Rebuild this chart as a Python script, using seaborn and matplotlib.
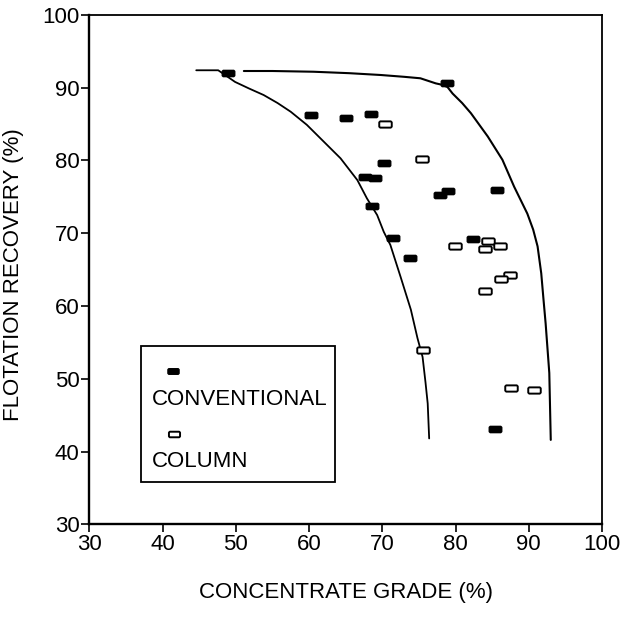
"""
浮选回收率 vs 精矿品位 (常规浮选 / 浮选柱)
"""
import numpy as np
import pandas as pd
import matplotlib
matplotlib.use('Agg')
import matplotlib.pyplot as plt
from matplotlib.path import Path
from matplotlib.patches import Rectangle
import seaborn as sns

# 常规浮选 (实心)
conv_grade = [48.9, 78.9, 60.2, 65.1, 68.5, 70.2, 67.7, 69.0, 68.6, 71.5,
              73.8, 77.9, 79.0, 85.6, 82.4, 85.4]
conv_recovery = [92.0, 90.7, 86.3, 85.9, 86.4, 79.6, 77.8, 77.6, 73.8, 69.4,
                 66.6, 75.3, 75.8, 76.0, 69.2, 43.1]

# 浮选柱 (空心)
col_grade = [70.4, 75.4, 79.9, 84.5, 84.0, 86.1, 87.4, 86.2, 84.0, 75.5,
             87.6, 90.7]
col_recovery = [85.0, 80.2, 68.2, 68.9, 67.9, 68.2, 64.2, 63.7, 62.0, 54.0,
                48.8, 48.5]

# 包络线 (手绘)
low_curve_x = [44.6, 47.6, 49.9, 51.8, 53.8, 55.7, 57.5, 59.7, 62.0, 64.3,
               66.6, 67.9, 69.3, 70.2, 71.1, 72.5, 73.9, 74.8, 75.5, 75.9,
               76.2, 76.4]
low_curve_y = [92.4, 92.4, 90.8, 89.9, 89.0, 87.9, 86.7, 84.9, 82.6, 80.3,
               77.3, 74.8, 72.5, 70.2, 68.4, 64.0, 59.5, 55.6, 53.0, 49.5,
               46.6, 41.8]
high_curve_x = [51.1, 55.0, 60.6, 65.5, 69.8, 73.0, 75.2, 76.4, 77.3, 78.2,
                78.9, 79.6, 80.9, 82.1, 84.4, 86.4, 88.0, 89.8, 90.6, 91.2,
                91.7, 92.0, 92.3, 92.8, 93.0]
high_curve_y = [92.3, 92.3, 92.2, 92.0, 91.75, 91.5, 91.3, 90.9, 90.6, 90.4,
                90.1, 89.2, 87.9, 86.5, 83.3, 80.1, 76.4, 72.7, 70.5, 68.2,
                64.5, 61.0, 57.6, 50.8, 41.6]

ticks = [30, 40, 50, 60, 70, 80, 90, 100]

sns.set_style('ticks')
plt.rcParams['font.family'] = ['Liberation Sans', 'DejaVu Sans']
plt.rcParams['text.color'] = 'black'
plt.rcParams['axes.labelcolor'] = 'black'

# 圆角长方形标记
verts = [(-1, -0.35), (-0.85, -0.5), (0.85, -0.5), (1, -0.35),
         (1, 0.35), (0.85, 0.5), (-0.85, 0.5), (-1, 0.35), (-1, -0.35)]
box = Path(verts, closed=True)

fig = plt.figure(figsize=(6.24, 6.19), dpi=100)
ax = fig.add_axes([0.1431, 0.1530, 0.8217, 0.8228])

sns.lineplot(x=low_curve_x, y=low_curve_y, sort=False, estimator=None,
             color='black', lw=1.3, ax=ax, zorder=1)
sns.lineplot(x=high_curve_x, y=high_curve_y, sort=False, estimator=None,
             color='black', lw=1.5, ax=ax, zorder=1)

conv = pd.DataFrame({'grade': conv_grade, 'recovery': conv_recovery})
col = pd.DataFrame({'grade': col_grade, 'recovery': col_recovery})
sns.scatterplot(data=conv, x='grade', y='recovery', marker=box, s=81,
                color='black', edgecolor='black', linewidth=1.0, ax=ax, zorder=3)
sns.scatterplot(data=col, x='grade', y='recovery', marker=box, s=81,
                facecolor='white', edgecolor='black', linewidth=1.4, ax=ax, zorder=3)

ax.set_xlim(30, 100)
ax.set_ylim(30, 100)
ax.set_xticks(ticks)
ax.set_yticks(ticks)
ax.tick_params(axis='both', direction='out', length=5.5, width=1.2,
               labelsize=16, pad=1.5, colors='black', labelcolor='black')
for side in ['top', 'right', 'left', 'bottom']:
    ax.spines[side].set_visible(True)
    ax.spines[side].set_color('black')
    ax.spines[side].set_linewidth(1.3)
ax.spines['left'].set_linewidth(1.7)
ax.spines['bottom'].set_linewidth(1.7)

ax.set_xlabel('CONCENTRATE GRADE (%)', fontsize=16, color='black')
ax.set_ylabel('FLOTATION RECOVERY (%)', fontsize=16, color='black')
ax.xaxis.set_label_coords(0.5, -0.113)
ax.yaxis.set_label_coords(-0.128, 0.49)

# 图例 (标记在文字上方)
ax.add_patch(Rectangle((0.1006, 0.084), 0.378, 0.266, transform=ax.transAxes,
                       fill=False, edgecolor='black', lw=1.3, zorder=4))
ax.scatter([0.1635], [0.300], marker=box, s=64, color='black',
           transform=ax.transAxes, zorder=5)
ax.scatter([0.166], [0.177], marker=box, s=64, facecolor='white',
           edgecolor='black', linewidth=1.4, transform=ax.transAxes, zorder=5)
ax.text(0.1223, 0.245, 'CONVENTIONAL', transform=ax.transAxes, fontsize=16,
        ha='left', va='center', color='black')
ax.text(0.1223, 0.123, 'COLUMN', transform=ax.transAxes, fontsize=16,
        ha='left', va='center', color='black')

fig.savefig('out.png', dpi=100)
